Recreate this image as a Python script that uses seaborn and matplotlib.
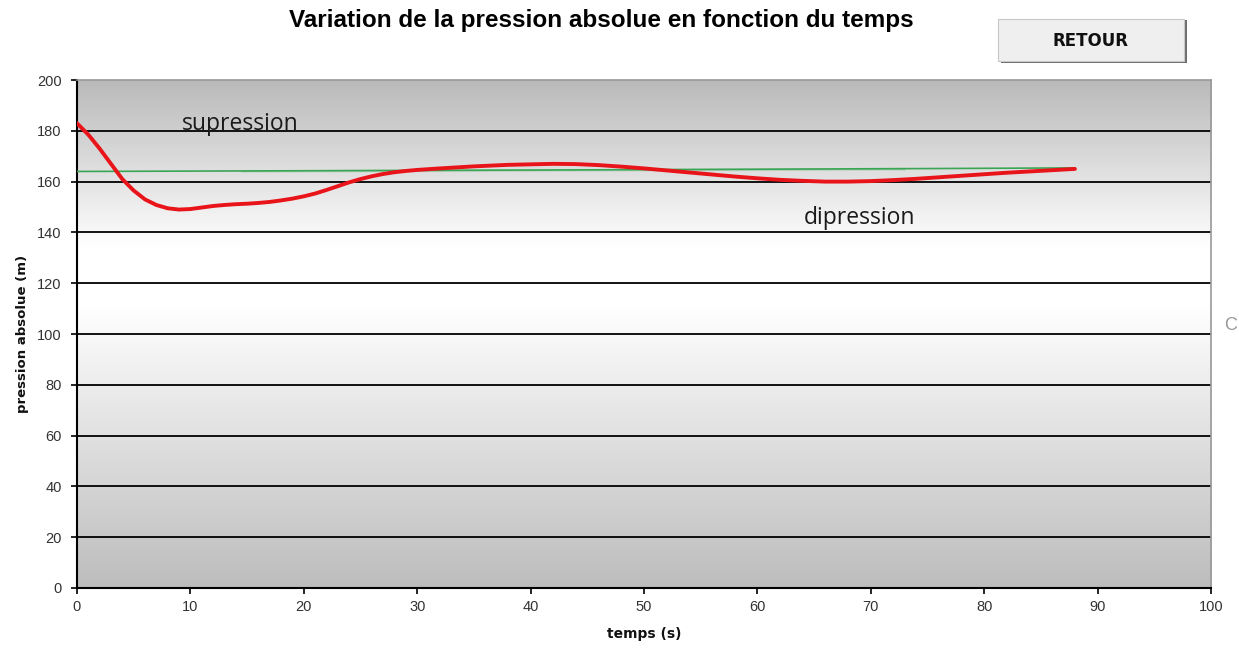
import numpy as np
import pandas as pd
import matplotlib
matplotlib.use("Agg")
import matplotlib.pyplot as plt
from matplotlib.patches import Rectangle
import seaborn as sns

# ---- data ----
temps = [0, 1, 2, 3, 4, 5, 6, 7, 8, 9, 10, 11, 12, 13, 14, 15, 16, 17, 18, 19, 20,
         21, 22, 23, 24, 25, 26, 27, 28, 29, 30, 32, 35, 38, 40, 42, 44, 46, 48, 50,
         52, 54, 56, 58, 60, 62, 64, 66, 68, 70, 72, 74, 76, 78, 80, 82, 84, 86, 88]
pression = [183, 178.5, 173, 167, 161, 156.5, 153, 150.8, 149.5, 149, 149.2, 149.8, 150.4, 150.8, 151.1, 151.3, 151.6, 152, 152.6, 153.3, 154.2,
            155.3, 156.7, 158.2, 159.7, 161, 162.1, 163, 163.7, 164.2, 164.6, 165.2, 166, 166.6, 166.8, 167, 166.9, 166.5, 165.9, 165.2,
            164.4, 163.6, 162.8, 162, 161.3, 160.7, 160.3, 160, 160, 160.2, 160.6, 161.1, 161.7, 162.3, 162.9, 163.5, 164, 164.5, 165]
ref_temps = [0, 14.5, 14.5, 43, 43, 73, 73, 88]
ref_pression = [164, 164, 164.4, 164.4, 164.8, 164.8, 165.4, 165.4]

title = "Variation de la pression absolue en fonction du temps"
xlabel = "temps (s)"
ylabel = "pression absolue (m)"
x_ticks = list(range(0, 101, 10))
y_ticks = list(range(0, 201, 20))

sns.set_style("white")
plt.rcParams['font.family'] = ['Liberation Sans', 'DejaVu Sans']

fig = plt.figure(figsize=(12.39, 6.5), dpi=100)
ax = fig.add_axes([0.0621, 0.0954, 0.9153, 0.7815])

# gradient background (top row first)
grad = np.concatenate([np.linspace(0.73, 1.0, 60), np.linspace(1.0, 1.0, 20), np.linspace(1.0, 0.74, 100)])
img = np.stack([grad, grad, grad], axis=-1)[:, None, :].repeat(2, axis=1)
ax.imshow(img, extent=[0, 1, 0, 1], transform=ax.transAxes, aspect='auto', zorder=0)

for yv in y_ticks[1:-1]:
    ax.axhline(yv, color='black', lw=1.3, zorder=1)

df_red = pd.DataFrame({"temps": temps, "pression": pression})
df_green = pd.DataFrame({"temps": ref_temps, "pression": ref_pression})
sns.lineplot(data=df_green, x="temps", y="pression", ax=ax, color="#3aa655", lw=1.2, sort=False, zorder=3)
sns.lineplot(data=df_red, x="temps", y="pression", ax=ax, color="#e8141a", lw=2.8, zorder=4)

ax.set_xlim(0, 100)
ax.set_ylim(0, 200)
ax.set_xticks(x_ticks)
ax.set_yticks(y_ticks)
ax.tick_params(axis='both', direction='out', length=4, width=1.2, color='black', labelsize=10.5, labelcolor='#333333', bottom=True, left=True)
ax.tick_params(axis='y', pad=7)
ax.tick_params(axis='x', pad=5)
ax.set_xlabel(xlabel, fontsize=10, fontweight='bold', family=['DejaVu Sans'], labelpad=9, color='#111111')
ax.set_ylabel(ylabel, fontsize=9.5, fontweight='bold', family=['DejaVu Sans'], labelpad=6, color='#111111')
for side in ['left', 'bottom']:
    ax.spines[side].set_color('black')
    ax.spines[side].set_linewidth(1.5)
for side in ['top', 'right']:
    ax.spines[side].set_color('#999999')
    ax.spines[side].set_linewidth(1.2)

ax.text(14.4, 182.7, "supression", fontsize=16.5, family=['Open Sans', 'DejaVu Sans'], color='#1a1a1a', ha='center', va='center', zorder=5)
ax.text(69, 145.7, "dipression", fontsize=16.5, family=['Open Sans', 'DejaVu Sans'], color='#1a1a1a', ha='center', va='center', zorder=5)

fig.text(0.485, 0.968, title, fontsize=17.5, fontweight='bold', ha='center', va='center', color='black')

# button
fig.patches.append(Rectangle((1001/1239, 1-63/650), 186/1239, 43/650, transform=fig.transFigure, facecolor='#6f6f6f', edgecolor='none', zorder=1))
fig.patches.append(Rectangle((998/1239, 1-61/650), 186/1239, 42/650, transform=fig.transFigure, facecolor='#efefef', edgecolor='#c8c8c8', lw=0.8, zorder=2))
fig.text(1091/1239, 1-41/650, "RETOUR", fontsize=12, fontweight='bold', family=['DejaVu Sans'], ha='center', va='center', color='#111111')
fig.text(1231/1239, 1-325/650, "C", fontsize=13, ha='center', va='center', color='#999999')

fig.savefig("out.png", dpi=100)
